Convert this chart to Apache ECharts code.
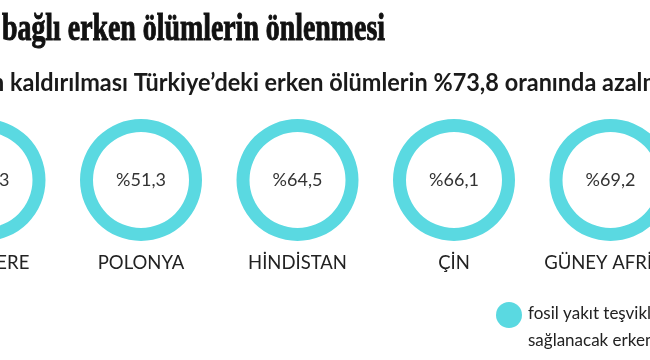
<!DOCTYPE html>
<html>
<head>
<meta charset="utf-8">
<script src="https://cdn.jsdelivr.net/npm/echarts@6/dist/echarts.min.js"></script>
<style>html,body{margin:0;padding:0;background:#fff;}#c{width:650px;height:360px;}</style>
</head>
<body>
<div id="c"></div>
<script>
const countries = ["İNGİLTERE", "POLONYA", "HİNDİSTAN", "ÇİN", "GÜNEY AFRİKA"];
const values = [43.3, 51.3, 64.5, 66.1, 69.2];
const titlePrefix = "Fosil yakıt teşviklerine ";
const titleText = "bağlı erken ölümlerin önlenmesi";
const subtitlePrefix = "Teşviklerin ";
const subtitleText = "kaldırılması Türkiye’deki erken ölümlerin %73,8 oranında azalmasını sağlayacak";
const legendLines = ["fosil yakıt teşviklerinin kaldırılmasıyla", "sağlanacak erken ölüm azalması"];

const CYAN = "#5ad9e1";
const chart = echarts.init(document.getElementById('c'), null, {renderer: 'canvas'});
const x0 = -15.5, step = 156.5, cy = 180;
const fmt = v => '%' + v.toFixed(1).replace('.', ',');
const ctx = document.createElement('canvas').getContext('2d');
const measure = (t, f) => { ctx.font = f; return ctx.measureText(t).width; };

const titleFont = 'bold 38px "Liberation Serif"';
const subFont = 'bold 24px Lato';
const tScale = 383 / measure(titleText, titleFont);
const sScale = 592 / measure("kaldırılması Türkiye’deki erken ölümlerin %73,8 oranında ", subFont);

const series = values.map((v, i) => ({
  type: 'pie',
  center: [x0 + i * step, cy],
  radius: [48, 61],
  silent: true,
  animation: false,
  label: {show: true, position: 'center', formatter: () => fmt(v), fontFamily: 'Lato', fontSize: 18, color: '#333'},
  labelLine: {show: false},
  itemStyle: {color: CYAN},
  emphasis: {disabled: true},
  data: [{value: v, name: countries[i]}]
}));

const graphics = [];
graphics.push({type: 'text', x: 2 - measure(titlePrefix, titleFont) * tScale, y: 11, scaleX: tScale,
  style: {text: titlePrefix + titleText, font: titleFont, fill: '#111', stroke: '#111', lineWidth: 1}});
graphics.push({type: 'text', x: 10 - measure(subtitlePrefix, subFont) * sScale, y: 83, scaleX: sScale,
  style: {text: subtitlePrefix + subtitleText, font: subFont, fill: '#1a1a1a', verticalAlign: 'middle'}});
countries.forEach((c, i) => {
  graphics.push({type: 'text', x: x0 + i * step, y: 263, style: {text: c, font: '18.5px Lato', fill: '#222', align: 'center', verticalAlign: 'middle'}});
});
graphics.push({type: 'circle', shape: {cx: 509, cy: 315, r: 13}, style: {fill: CYAN}});
legendLines.forEach((t, i) => {
  graphics.push({type: 'text', x: 528, y: 314 + i * 27, style: {text: t, font: '17px Lato', fill: '#222', verticalAlign: 'middle'}});
});

chart.setOption({animation: false, series: series, graphic: graphics});
</script>
</body>
</html>
